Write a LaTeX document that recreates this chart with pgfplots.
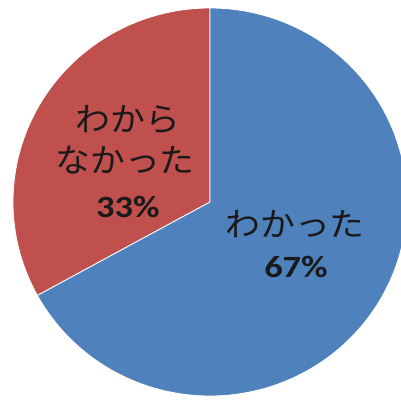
\documentclass[border=0pt]{standalone}
\usepackage{pgfplots}
\pgfplotsset{compat=1.18}
\usepackage{fontspec}
\newfontfamily\jp{Noto Sans CJK JP}
\newfontfamily\lat{Carlito}
\definecolor{pieblue}{HTML}{4F81BD}
\definecolor{piered}{HTML}{C0504D}
\definecolor{txt}{HTML}{1A1A1A}
% data (percent)
\def\valA{67}% わかった
\def\valB{33}% わからなかった
\pgfmathsetmacro{\cut}{90+3.6*\valB}
\begin{document}
\begin{tikzpicture}
\begin{axis}[
  scale only axis, width=401bp, height=401bp,
  xmin=-210, xmax=191, ymin=-199, ymax=202,
  hide axis, clip=true,
]
\addplot[fill=piered, draw=white, line width=0.8bp, domain=90:\cut, samples=121, variable=\t]
  ({197*cos(\t)},{194*sin(\t)}) -- (axis cs:0,0) -- cycle;
\addplot[fill=pieblue, draw=white, line width=0.8bp, domain=\cut:450, samples=241, variable=\t]
  ({197*cos(\t)},{194*sin(\t)}) -- (axis cs:0,0) -- cycle;
\node[text=txt, xscale=1.06, font=\jp\fontsize{33}{40}\selectfont] at (axis cs:-82,82) {わから};
\node[text=txt, xscale=1.06, font=\jp\fontsize{33}{40}\selectfont] at (axis cs:-85,42) {なかった};
\node[text=txt, xscale=1.18, font=\lat\bfseries\fontsize{31}{36}\selectfont] at (axis cs:-82,-5) {\valB\%};
\node[text=txt, xscale=1.06, font=\jp\fontsize{33}{40}\selectfont] at (axis cs:85,-22) {わかった};
\node[text=txt, xscale=1.18, font=\lat\bfseries\fontsize{31}{36}\selectfont] at (axis cs:86,-65) {\valA\%};
\end{axis}
\pgfresetboundingbox
\path (current axis.south west) rectangle (current axis.north east);
\end{tikzpicture}
\end{document}
